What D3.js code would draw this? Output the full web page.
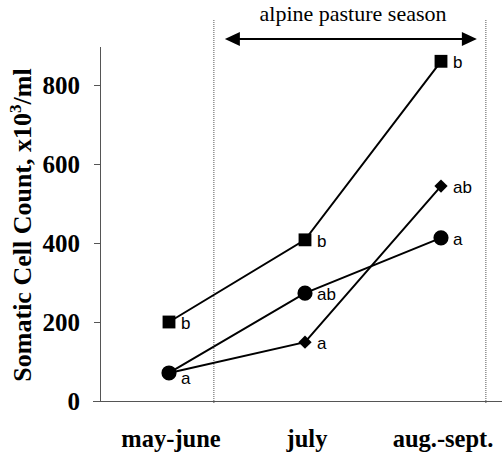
<!DOCTYPE html>
<html><head><meta charset="utf-8">
<script src="https://cdn.jsdelivr.net/npm/d3@7"></script>
<style>body{margin:0;background:#fff}svg{display:block}</style>
</head><body>
<script>
const categories = ["may-june", "july", "aug.-sept."];
const squareValues = [200, 408, 860];
const circleValues = [71, 273, 413];
const diamondValues = [71, 149, 544];
const squareLetters = ["b", "b", "b"];
const circleLetters = ["a", "ab", "a"];
const diamondLetters = ["", "a", "ab"];
const yTicks = [0, 200, 400, 600, 800];
const yTitle = "Somatic Cell Count, x10";
const seasonLabel = "alpine pasture season";

const W = 502, H = 454;
const SERIF = "'Liberation Serif', 'Times New Roman', serif";
const svg = d3.select("body").append("svg").attr("width", W).attr("height", H);

const x = d3.scalePoint().domain(categories).range([101, 509]).padding(0.5);
const y = d3.scaleLinear().domain([0, 800]).range([401, 85]);
const step = x.step();

// season boundaries (dotted)
const bounds = [x(categories[0]) + step * 0.33, x(categories[2]) + step * 0.33];
bounds.forEach(bx => {
  svg.append("line").attr("x1", bx).attr("x2", bx).attr("y1", 20).attr("y2", 404)
    .attr("stroke", "#555").attr("stroke-width", 1).attr("stroke-dasharray", "1,1");
});

// y axis
svg.append("line").attr("x1", 100.5).attr("x2", 100.5).attr("y1", 47).attr("y2", y(0))
  .attr("stroke", "#555").attr("stroke-width", 1);
yTicks.forEach(t => {
  svg.append("line").attr("x1", 94).attr("x2", 100.5).attr("y1", y(t) + 0.5).attr("y2", y(t) + 0.5)
    .attr("stroke", "#555").attr("stroke-width", 1);
  svg.append("text").attr("x", 80).attr("y", y(t)).attr("dy", "0.34em")
    .attr("text-anchor", "end").attr("font-family", SERIF)
    .attr("font-weight", "bold").attr("font-size", 25).text(t);
});
// x axis
svg.append("line").attr("x1", 93).attr("x2", 502).attr("y1", y(0) + 0.5).attr("y2", y(0) + 0.5)
  .attr("stroke", "#555").attr("stroke-width", 1.2);
categories.forEach(c => {
  svg.append("text").attr("x", x(c) + 2).attr("y", 447).attr("text-anchor", "middle")
    .attr("font-family", SERIF).attr("font-weight", "bold").attr("font-size", 24.5).text(c);
});

// y title
const yt = svg.append("text").attr("transform", "translate(31,225) rotate(-90)")
  .attr("text-anchor", "middle").attr("font-family", SERIF)
  .attr("font-weight", "bold").attr("font-size", 26);
yt.append("tspan").text(yTitle);
yt.append("tspan").attr("dy", -10).attr("font-size", 17).text("3");
yt.append("tspan").attr("dy", 10).text("/ml");

// season arrow
const ax1 = bounds[0] + 11, ax2 = bounds[1] - 9, ay = 39;
svg.append("line").attr("x1", ax1 + 10).attr("x2", ax2 - 10).attr("y1", ay).attr("y2", ay)
  .attr("stroke", "#000").attr("stroke-width", 2);
svg.append("path").attr("d", `M${ax1},${ay} l15,-7 l0,14 z`).attr("fill", "#000");
svg.append("path").attr("d", `M${ax2},${ay} l-15,-7 l0,14 z`).attr("fill", "#000");
svg.append("text").attr("x", 353).attr("y", 21).attr("text-anchor", "middle")
  .attr("font-family", SERIF).attr("font-size", 22).text(seasonLabel);

// series
const line = d3.line().x((d, i) => x(categories[i])).y(d => y(d));
const series = [
  {vals: circleValues, letters: circleLetters, sym: d3.symbolCircle, size: 180, rot: 0},
  {vals: diamondValues, letters: diamondLetters, sym: d3.symbolSquare, size: 88, rot: 45},
  {vals: squareValues, letters: squareLetters, sym: d3.symbolSquare, size: 165, rot: 0}
];
series.forEach(s => {
  svg.append("path").attr("d", line(s.vals)).attr("fill", "none")
    .attr("stroke", "#000").attr("stroke-width", 2);
});
series.forEach(s => {
  s.vals.forEach((v, i) => {
    svg.append("path").attr("d", d3.symbol().type(s.sym).size(s.size)())
      .attr("transform", `translate(${x(categories[i])},${y(v)}) rotate(${s.rot})`).attr("fill", "#000");
    if (s.letters[i]) {
      svg.append("text").attr("x", x(categories[i]) + 12).attr("y", y(v) + (s.sym === d3.symbolCircle && i === 0 ? 4 : 0))
        .attr("dy", "0.4em").attr("font-family", "'Liberation Sans', Arial, sans-serif").attr("font-size", 17)
        .text(s.letters[i]);
    }
  });
});
</script>
</body></html>
